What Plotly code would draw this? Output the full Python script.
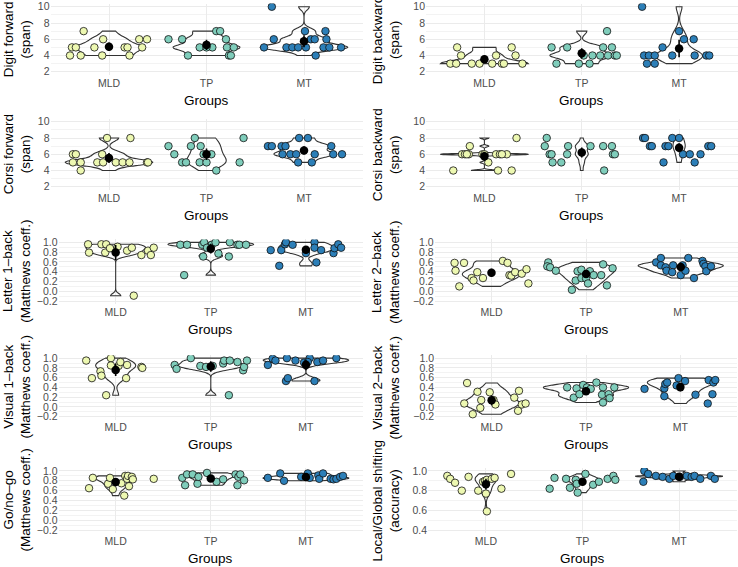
import numpy as np
import plotly.graph_objects as go

groups = ["MLD", "TP", "MT"]
colors = ["#EDF8B1", "#7FCDBB", "#2C7FB8"]

# ---- data + horizontal jitter offsets ----
dfw_mld = [4, 5, 5, 4, 7, 5, 4, 6, 5, 5, 4, 6, 5, 6]
dfw_mld_j = [-0.40, -0.38, -0.34, -0.29, -0.26, -0.15, -0.07, -0.06, 0.16, 0.19, 0.21, 0.31, 0.34, 0.39]
dfw_tp = [6, 6, 4, 5, 5, 7, 7, 6, 5, 4, 4, 5, 5]
dfw_tp_j = [-0.39, -0.25, -0.19, -0.07, 0.06, 0.10, 0.14, 0.20, 0.21, 0.23, 0.25, 0.28, 0.0]
dfw_mt = [10, 6, 5, 5, 5, 5, 5, 7, 6, 6, 4, 5, 7, 6, 5, 5]
dfw_mt_j = [-0.33, -0.31, -0.41, -0.18, -0.12, -0.06, 0.02, 0.01, 0.07, 0.11, 0.12, 0.20, 0.22, 0.23, 0.26, 0.38]

dbw_mld = [3, 3, 5, 4, 3, 3, 3, 4, 3, 3, 5, 4, 3]
dbw_mld_j = [-0.35, -0.29, -0.28, -0.24, -0.13, -0.05, 0.08, 0.12, 0.18, 0.20, 0.28, 0.32, 0.39]
dbw_tp = [5, 3, 5, 3, 4, 3, 4, 4, 5, 5, 7, 4, 4, 4]
dbw_tp_j = [-0.31, -0.26, -0.15, -0.03, 0.02, 0.08, 0.11, 0.19, 0.22, 0.31, 0.26, 0.27, 0.34, 0.36]
dbw_mt = [10, 4, 4, 3, 4, 3, 5, 4, 7, 6, 6, 4, 4, 4]
dbw_mt_j = [-0.38, -0.36, -0.31, -0.33, -0.25, -0.25, -0.17, -0.07, 0.0, 0.05, 0.15, 0.16, 0.28, 0.31]

cfw_mld = [6, 6, 5, 5, 4, 5, 6, 8, 5, 5, 5, 5, 8, 5, 5]
cfw_mld_j = [-0.37, -0.34, -0.37, -0.29, -0.29, -0.12, -0.07, -0.02, -0.06, 0.07, 0.14, 0.21, 0.22, 0.39, 0.40]
cfw_tp = [7, 6, 5, 5, 7, 8, 7, 6, 6, 5, 5, 4, 5, 8]
cfw_tp_j = [-0.39, -0.33, -0.25, -0.21, -0.16, -0.12, -0.06, -0.03, 0.05, -0.07, 0.0, 0.10, 0.34, 0.38]
cfw_mt = [7, 7, 7, 7, 6, 6, 6, 5, 8, 8, 5, 6, 7, 6, 6]
cfw_mt_j = [-0.37, -0.33, -0.23, -0.19, -0.22, -0.14, -0.08, -0.06, -0.05, 0.04, 0.08, 0.11, 0.28, 0.30, 0.39]

cbw_mld = [4, 6, 6, 7, 6, 5, 6, 6, 4, 6, 4, 8, 6, 6, 6, 6]
cbw_mld_j = [-0.32, -0.23, -0.20, -0.15, -0.16, 0.04, 0.12, 0.16, 0.14, 0.23, 0.28, 0.33, -0.02, 0.0, 0.18, -0.18]
cbw_tp = [8, 7, 6, 6, 5, 5, 7, 6, 7, 7, 4, 7, 6, 6]
cbw_tp_j = [-0.36, -0.38, -0.33, -0.31, -0.30, -0.21, -0.14, -0.15, 0.09, 0.22, 0.23, 0.31, 0.32, 0.34]
cbw_mt = [8, 8, 7, 7, 5, 7, 7, 8, 8, 6, 6, 5, 6, 7, 7]
cbw_mt_j = [-0.37, -0.35, -0.30, -0.28, -0.16, -0.14, -0.11, -0.07, 0.0, 0.04, 0.11, 0.16, 0.22, 0.30, 0.33]

l1_mld = [0.96, 0.79, 0.96, 0.96, 0.79, 0.88, 0.91, 0.83, 0.89, -0.09, 0.74, 0.83, 0.74, 0.89]
l1_mld_j = [-0.29, -0.28, -0.15, -0.10, -0.11, -0.06, 0.02, 0.12, 0.17, 0.19, 0.27, 0.34, 0.37, 0.40]
l1_tp = [0.95, 0.33, 0.95, 0.95, 1.0, 0.71, 0.95, 1.0, 0.77, 0.71, 1.0, 0.95, 0.95, 0.95, 0.89]
l1_tp_j = [-0.32, -0.28, -0.25, -0.09, -0.07, -0.08, 0.01, 0.05, 0.08, 0.19, 0.20, 0.28, 0.30, 0.37, -0.04]
l1_mt = [0.84, 0.52, 0.84, 0.96, 1.0, 0.95, 0.78, 1.0, 0.89, 0.59, 0.84, 0.78, 0.88, 0.96, 0.89]
l1_mt_j = [-0.37, -0.28, -0.26, -0.22, -0.21, -0.14, 0.0, 0.09, 0.09, 0.11, 0.16, 0.29, 0.30, 0.34, 0.37]

l2_mld = [0.58, 0.42, 0.10, 0.58, 0.27, 0.22, 0.39, 0.27, 0.62, 0.58, 0.33, 0.32, 0.39, 0.36, 0.45, 0.16]
l2_mld_j = [-0.39, -0.38, -0.34, -0.29, -0.21, -0.19, -0.15, -0.09, 0.12, 0.17, 0.19, 0.21, 0.25, 0.32, 0.37, 0.39]
l2_tp = [0.59, 0.51, 0.49, 0.42, 0.03, 0.22, 0.41, 0.44, 0.27, 0.26, 0.16, 0.41, 0.33, 0.33, 0.55, 0.12, 0.47]
l2_tp_j = [-0.40, -0.41, -0.38, -0.32, -0.15, -0.11, -0.09, -0.05, -0.05, 0.0, 0.02, 0.04, 0.08, 0.16, 0.18, 0.22, 0.28]
l2_mt = [0.59, 0.68, 0.53, 0.49, 0.42, 0.53, 0.39, 0.33, 0.53, 0.42, 0.68, 0.27, 0.62, 0.56, 0.51, 0.41, 0.51]
l2_mt_j = [-0.26, -0.21, -0.21, -0.16, -0.15, -0.08, -0.09, 0.0, 0.02, 0.05, 0.08, 0.14, 0.23, 0.24, 0.26, 0.27, 0.32]

v1_mld = [0.95, 0.59, 0.73, 0.64, 0.24, 1.0, 0.85, 0.84, 0.92, 0.59, 0.86, 0.82, 0.80]
v1_mld_j = [-0.31, -0.25, -0.16, -0.15, -0.10, -0.05, -0.05, 0.03, 0.05, 0.11, 0.12, 0.27, 0.28]
v1_tp = [0.86, 0.78, 1.0, 0.84, 0.82, 0.84, 0.89, 0.95, 0.95, 0.24, 0.92, 0.75, 0.82, 0.95]
v1_tp_j = [-0.38, -0.36, -0.21, -0.11, -0.05, 0.02, 0.13, 0.14, 0.20, 0.19, 0.28, 0.34, 0.35, 0.38]
v1_mt = [0.86, 0.99, 0.95, 0.53, 0.59, 1.0, 0.95, 0.91, 1.0, 0.92, 0.53, 0.92, 0.95, 1.0]
v1_mt_j = [-0.40, -0.35, -0.32, -0.21, -0.19, -0.20, -0.11, -0.02, 0.04, 0.02, 0.09, 0.12, 0.18, 0.32]

v2_mld = [0.49, 0.07, -0.15, 0.31, -0.02, 0.14, 0.30, 0.14, 0.05, 0.19, -0.08, 0.33, 0.05, 0.07]
v2_mld_j = [-0.26, -0.29, -0.20, -0.15, -0.12, -0.11, -0.02, 0.02, 0.04, 0.24, 0.28, 0.29, 0.32, 0.36]
v2_tp = [0.40, 0.19, 0.38, 0.26, 0.45, 0.40, 0.37, 0.50, 0.40, 0.25, 0.09, 0.26, 0.18, 0.40]
v2_tp_j = [-0.20, -0.13, -0.10, -0.07, -0.03, 0.01, 0.05, 0.11, 0.18, 0.17, 0.18, 0.24, 0.25, 0.30]
v2_mt = [0.37, 0.22, 0.38, 0.47, 0.50, 0.59, 0.44, 0.53, 0.25, 0.07, 0.55, 0.26, 0.50, 0.55]
v2_mt_j = [-0.38, -0.17, -0.17, -0.16, -0.14, -0.02, -0.04, 0.05, 0.16, 0.29, 0.30, 0.34, 0.35, 0.37]

gn_mld = [0.65, 0.86, 0.74, 0.86, 0.63, 0.75, 0.50, 0.90, 0.84, 0.90, 0.69, 0.88, 0.83, 0.84]
gn_mld_j = [-0.28, -0.24, -0.08, -0.06, -0.03, 0.06, 0.09, 0.10, 0.12, 0.13, 0.14, 0.17, 0.18, 0.40]
gn_tp = [0.86, 0.71, 0.93, 0.93, 0.74, 0.88, 0.96, 0.78, 0.83, 0.93, 0.71, 0.88, 0.93, 0.81]
gn_tp_j = [-0.30, -0.27, -0.25, -0.19, -0.14, -0.13, -0.04, 0.06, 0.13, 0.26, 0.28, 0.29, 0.31, 0.35]
gn_mt = [0.86, 0.95, 0.80, 0.88, 0.95, 0.86, 0.91, 0.84, 0.95, 0.84, 0.83, 0.84, 0.88, 0.90]
gn_mt_j = [-0.40, -0.27, -0.23, -0.05, 0.02, 0.04, 0.13, 0.14, 0.18, 0.26, 0.29, 0.32, 0.36, 0.39]

lg_mld = [0.95, 0.92, 0.88, 0.80, 0.94, 0.80, 0.89, 0.77, 0.59, 0.90, 0.91, 0.92, 0.93, 0.82, 0.97]
lg_mld_j = [-0.40, -0.37, -0.32, -0.25, -0.18, -0.08, -0.03, 0.0, 0.01, -0.01, 0.01, 0.06, 0.09, 0.16, 0.26]
lg_tp = [0.82, 0.93, 0.92, 0.83, 0.91, 0.78, 0.87, 0.97, 0.86, 0.89, 0.92, 0.95, 0.91]
lg_tp_j = [-0.34, -0.29, -0.17, -0.13, -0.07, -0.05, -0.06, 0.03, 0.11, 0.17, 0.26, 0.32, 0.34]
lg_mt = [0.89, 1.0, 0.97, 0.95, 0.94, 0.92, 0.95, 0.94, 0.95, 0.94, 0.95, 0.92, 0.95, 0.92]
lg_mt_j = [-0.37, -0.36, -0.32, -0.24, -0.17, -0.10, -0.06, 0.01, 0.08, 0.13, 0.16, 0.22, 0.33, 0.37]

y_titles = [
    "Digit forward<br>(span)", "Digit backward<br>(span)",
    "Corsi forward<br>(span)", "Corsi backward<br>(span)",
    "Letter 1–back<br>(Matthews coeff.)", "Letter 2–back<br>(Matthews coeff.)",
    "Visual 1–back<br>(Matthews coeff.)", "Visual 2–back<br>(Matthews coeff.)",
    "Go/no–go<br>(Matthews coeff.)", "Local/Global shifting<br>(accuracy)",
]
x_title = "Groups"

panel_data = [
    ([dfw_mld, dfw_tp, dfw_mt], [dfw_mld_j, dfw_tp_j, dfw_mt_j], "span"),
    ([dbw_mld, dbw_tp, dbw_mt], [dbw_mld_j, dbw_tp_j, dbw_mt_j], "span"),
    ([cfw_mld, cfw_tp, cfw_mt], [cfw_mld_j, cfw_tp_j, cfw_mt_j], "span"),
    ([cbw_mld, cbw_tp, cbw_mt], [cbw_mld_j, cbw_tp_j, cbw_mt_j], "span"),
    ([l1_mld, l1_tp, l1_mt], [l1_mld_j, l1_tp_j, l1_mt_j], "mcc"),
    ([l2_mld, l2_tp, l2_mt], [l2_mld_j, l2_tp_j, l2_mt_j], "mcc"),
    ([v1_mld, v1_tp, v1_mt], [v1_mld_j, v1_tp_j, v1_mt_j], "mcc"),
    ([v2_mld, v2_tp, v2_mt], [v2_mld_j, v2_tp_j, v2_mt_j], "mcc"),
    ([gn_mld, gn_tp, gn_mt], [gn_mld_j, gn_tp_j, gn_mt_j], "mcc"),
    ([lg_mld, lg_tp, lg_mt], [lg_mld_j, lg_tp_j, lg_mt_j], "acc"),
]

# ---- layout geometry (pixels) ----
W, H = 738, 567
panel_px = [  # x0, x1, y_top, y_bottom
    (50.5, 362.5, 3.5, 75.0), (426.0, 737.5, 3.5, 75.0),
    (50.5, 362.5, 118.5, 190.0), (426.0, 737.5, 118.5, 190.0),
    (58.6, 363.0, 239.4, 304.0), (434.7, 737.5, 239.4, 304.0),
    (58.6, 363.0, 355.2, 419.6), (435.0, 737.0, 355.2, 419.6),
    (58.6, 363.0, 468.0, 533.0), (428.0, 737.0, 468.0, 533.0),
]

yspec = {
    "span": dict(range=[1.6, 10.4], tick0=2, dtick=2, minor=1, fmt="d"),
    "mcc": dict(range=[-0.26, 1.06], tick0=-0.2, dtick=0.2, minor=0.1, fmt=".1f"),
    "acc": dict(range=[0.37, 1.03], tick0=0.4, dtick=0.2, minor=0.1, fmt=".1f"),
}

FONT = "Liberation Sans, Arial, Helvetica, sans-serif"
GRID = "#EBEBEB"
ADJUST = 1.0


def bw_nrd0(x):
    x = np.asarray(x, float)
    hi = x.std(ddof=1)
    q75, q25 = np.percentile(x, [75, 25])
    lo = min(hi, (q75 - q25) / 1.34)
    if lo == 0:
        lo = hi if hi else (abs(x[0]) if x[0] else 1.0)
    return 0.9 * lo * len(x) ** -0.2


def kde_max(x, bw):
    x = np.asarray(x, float)
    grid = np.linspace(x.min(), x.max(), 512)
    d = np.exp(-0.5 * ((grid[:, None] - x[None, :]) / bw) ** 2).sum(1) / (len(x) * bw * np.sqrt(2 * np.pi))
    return d.max()


def t975(df):
    z = 1.959964
    return z + (z**3 + z) / (4 * df) + (5 * z**5 + 16 * z**3 + 3 * z) / (96 * df**2) \
        + (3 * z**7 + 19 * z**5 + 17 * z**3 - 15 * z) / (384 * df**3)


fig = go.Figure()
annotations = []

for i, ((vals, jits, kind), (x0, x1, yt, yb), ytitle) in enumerate(zip(panel_data, panel_px, y_titles)):
    k = i + 1
    xa = "x" if k == 1 else f"x{k}"
    ya = "y" if k == 1 else f"y{k}"
    bws = [bw_nrd0(v) * ADJUST for v in vals]
    maxes = [kde_max(v, b) for v, b in zip(vals, bws)]
    top = max(maxes)
    for g in range(3):
        v = np.asarray(vals[g], float)
        fig.add_trace(go.Violin(
            x=[g + 1] * len(v), y=v, xaxis=xa, yaxis=ya,
            width=0.9 * maxes[g] / top, spanmode="hard", points=False,
            bandwidth=bws[g], scalegroup=f"p{k}g{g}", scalemode="width",
            line=dict(color="#333333", width=1.1), fillcolor="rgba(0,0,0,0)",
            box_visible=False, meanline_visible=False, hoverinfo="skip",
            showlegend=False,
        ))
    for g in range(3):
        v = np.asarray(vals[g], float)
        fig.add_trace(go.Scatter(
            x=np.asarray(jits[g]) + g + 1, y=v, mode="markers", xaxis=xa, yaxis=ya,
            marker=dict(size=7.5, color=colors[g], line=dict(color="#111111", width=0.8)),
            hoverinfo="skip", showlegend=False,
        ))
    means, errs = [], []
    for g in range(3):
        v = np.asarray(vals[g], float)
        means.append(v.mean())
        errs.append(t975(len(v) - 1) * v.std(ddof=1) / np.sqrt(len(v)))
    fig.add_trace(go.Scatter(
        x=[1, 2, 3], y=means, mode="markers", xaxis=xa, yaxis=ya,
        marker=dict(size=8.5, color="black"),
        error_y=dict(type="data", array=errs, visible=True, color="black", thickness=1.6, width=0),
        hoverinfo="skip", showlegend=False,
    ))

    s = yspec[kind]
    xdom = [x0 / W, x1 / W]
    ydom = [1 - yb / H, 1 - yt / H]
    fig.layout[("xaxis" if k == 1 else f"xaxis{k}")] = dict(
        domain=xdom, anchor=ya, range=[0.4, 3.6], tickmode="array", automargin=False,
        tickvals=[1, 2, 3], ticktext=groups, showgrid=True, gridcolor=GRID, gridwidth=1,
        zeroline=False, showline=False, ticks="", ticklen=0, fixedrange=True,
        tickfont=dict(family=FONT, size=10.5, color="#4D4D4D"),
    )
    fig.layout[("yaxis" if k == 1 else f"yaxis{k}")] = dict(
        domain=ydom, anchor=xa, range=s["range"], tickmode="linear", tick0=s["tick0"],
        dtick=s["dtick"], tickformat=s["fmt"], showgrid=True, gridcolor=GRID, gridwidth=1,
        minor=dict(dtick=s["minor"], tick0=s["tick0"], showgrid=True, gridcolor=GRID, gridwidth=0.6, ticks=""),
        zeroline=False, showline=False, ticks="", ticklen=0, fixedrange=True, automargin=False,
        tickfont=dict(family=FONT, size=10.5, color="#4D4D4D"),
    )
    annotations.append(dict(
        text=x_title, xref="paper", yref="paper", x=(x0 + x1) / 2 / W, y=1 - (yb + 25) / H,
        xanchor="center", yanchor="middle", showarrow=False,
        font=dict(family=FONT, size=13.5, color="black"),
    ))
    col_left = 0 if x0 < 300 else 369
    annotations.append(dict(
        text=ytitle, xref="paper", yref="paper", x=(col_left + 17) / W, y=1 - (yt + yb) / 2 / H,
        xanchor="center", yanchor="middle", showarrow=False, textangle=-90, align="center",
        font=dict(family=FONT, size=13.5, color="black"),
    ))

fig.update_layout(
    template="none",
    width=W, height=H, margin=dict(l=0, r=0, t=0, b=0, autoexpand=False),
    paper_bgcolor="white", plot_bgcolor="white",
    violinmode="overlay", violingap=0, violingroupgap=0,
    annotations=annotations, showlegend=False,
)

fig.write_html(
    "out.html",
    config={"displayModeBar": False, "staticPlot": True},
    post_script="document.body.style.margin='0';document.body.style.padding='0';",
)
